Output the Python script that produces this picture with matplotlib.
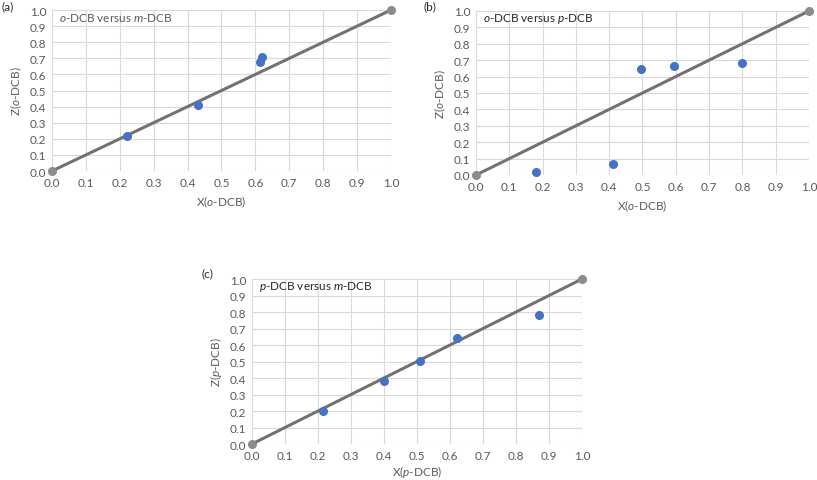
import matplotlib
matplotlib.use("Agg")
import matplotlib.pyplot as plt
import numpy as np

plt.rcParams['font.family'] = ['Lato', 'DejaVu Sans']
plt.rcParams['mathtext.fontset'] = 'custom'
plt.rcParams['mathtext.rm'] = 'Lato'
plt.rcParams['mathtext.it'] = 'Lato:italic'

# data
a_x = [0.22, 0.43, 0.615, 0.62]
a_z = [0.215, 0.41, 0.675, 0.71]

b_x = [0.18, 0.41, 0.495, 0.595, 0.80]
b_z = [0.02, 0.07, 0.645, 0.665, 0.68]

c_x = [0.215, 0.40, 0.51, 0.62, 0.87]
c_z = [0.20, 0.38, 0.505, 0.645, 0.78]

diag = [0.0, 1.0]
ticks = np.round(np.arange(0, 1.01, 0.1), 1)
tick_labels = ['%.1f' % t for t in ticks]

text_col = '#595959'
grid_col = '#d9d9d9'
blue = '#4472c4'
line_col = '#767171'
end_col = '#8c8c8c'
fs = 8.5

fig = plt.figure(figsize=(8.17, 4.81), dpi=100)

panels = [
    ('(a)', [0.0636, 0.6424, 0.415, 0.3347], a_x, a_z, r'$\mathit{o}$-DCB versus $\mathit{m}$-DCB',
     r'X($\mathit{o}$-DCB)', r'Z($\mathit{o}$-DCB)', 4),
    ('(b)', [0.5826, 0.6341, 0.4076, 0.341], b_x, b_z, r'$\mathit{o}$-DCB versus $\mathit{p}$-DCB',
     r'X($\mathit{o}$-DCB)', r'Z($\mathit{o}$-DCB)', 4),
    ('(c)', [0.3084, 0.0748, 0.4039, 0.343], c_x, c_z, r'$\mathit{p}$-DCB versus $\mathit{m}$-DCB',
     r'X($\mathit{p}$-DCB)', r'Z($\mathit{p}$-DCB)', 2),
]

for lab, rect, xs, zs, title, xl, yl, xpad in panels:
    ax = fig.add_axes(rect)
    ax.set_xlim(0, 1)
    ax.set_ylim(0, 1)
    ax.set_xticks(ticks)
    ax.set_yticks(ticks)
    ax.set_xticklabels(tick_labels)
    ax.set_yticklabels(tick_labels)
    ax.grid(True, color=grid_col, linewidth=0.8)
    ax.set_axisbelow(True)
    for s in ax.spines.values():
        s.set_visible(False)
    ax.tick_params(length=0, labelsize=fs, colors=text_col, pad=4)
    ax.plot(diag, diag, color=line_col, linewidth=2.2, zorder=3, clip_on=False)
    ax.plot(diag, diag, linestyle='none', marker='o', markersize=5.5,
            color=end_col, zorder=4, clip_on=False)
    ax.plot(xs, zs, linestyle='none', marker='o', markersize=5.5,
            color=blue, zorder=5, clip_on=False)
    ax.set_xlabel(xl, fontsize=fs, color=text_col, labelpad=xpad)
    ax.set_ylabel(yl, fontsize=fs, color=text_col, labelpad=4)
    ax.text(0.02, 0.955, title, transform=ax.transAxes, fontsize=fs,
            color=text_col if lab == '(a)' else '#262626', va='center', ha='left')

fig.text(1 / 817, 1 - 7 / 481, '(a)', fontsize=fs, color='#262626', va='center', ha='left')
fig.text(423 / 817, 1 - 7 / 481, '(b)', fontsize=fs, color='#262626', va='center', ha='left')
fig.text(202 / 817, 1 - 274 / 481, '(c)', fontsize=fs, color='#262626', va='center', ha='left')

fig.savefig('out.png', dpi=100)
